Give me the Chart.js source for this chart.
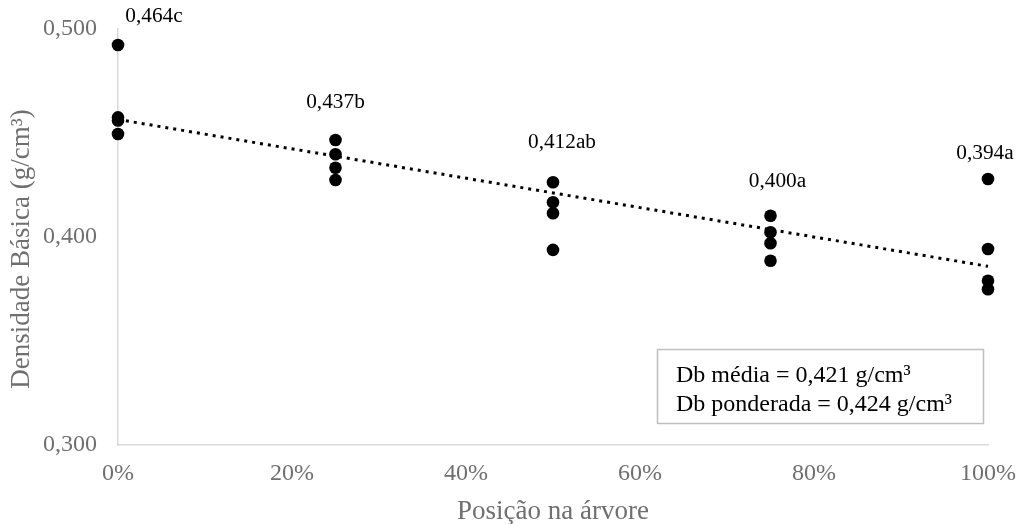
<!DOCTYPE html>
<html>
<head>
<meta charset="utf-8">
<script src="https://cdn.jsdelivr.net/npm/chart.js@4/dist/chart.umd.min.js"></script>
<style>
html,body{margin:0;padding:0;background:#fff;}
#wrap{width:1017px;height:524px;}
</style>
</head>
<body>
<div id="wrap"><canvas id="c" width="1017" height="524"></canvas></div>
<script>
// ---- data ----
const positions = [0, 0.25, 0.5, 0.75, 1];
const density0 = [0.4923, 0.4575, 0.4560, 0.4495];
const density25 = [0.4466, 0.4398, 0.4333, 0.4274];
const density50 = [0.4263, 0.4167, 0.4114, 0.3938];
const density75 = [0.4102, 0.4023, 0.3970, 0.3886];
const density100 = [0.4279, 0.3942, 0.3790, 0.3749];
const meanLabels = ['0,464c', '0,437b', '0,412ab', '0,400a', '0,394a'];
const trendX = [0, 1];
const trendY = [0.4565, 0.3859];
const xTickValues = [0, 0.2, 0.4, 0.6, 0.8, 1];
const yTickValues = [0.3, 0.4, 0.5];
const boxLines = ['Db média = 0,421 g/cm³', 'Db ponderada = 0,424 g/cm³'];
const xTitle = 'Posição na árvore';
const yTitle = 'Densidade Básica (g/cm³)';

// ---- build ----
const groups = [density0, density25, density50, density75, density100];
const scatterPts = [];
groups.forEach((g, i) => g.forEach(v => scatterPts.push({x: positions[i], y: v})));
const trendPts = trendX.map((x, i) => ({x: x, y: trendY[i]}));

const SERIF = '"Liberation Serif", "Times New Roman", serif';
const GRAY = '#6f6f6f';

// annotation placement (label anchor in data units + pixel nudge)
const labelAnchorY = [0.5060, 0.4645, 0.4457, 0.4269, 0.4404];
const labelDx = [36, 0, 9, 7, -3];

const annotations = {
  id: 'annotations',
  afterDraw(chart) {
    const ctx = chart.ctx;
    const xs = chart.scales.x, ys = chart.scales.y;
    ctx.save();
    ctx.fillStyle = '#000';
    ctx.font = '21.3px ' + SERIF;
    ctx.textAlign = 'center';
    ctx.textBaseline = 'middle';
    meanLabels.forEach((t, i) => {
      ctx.fillText(t, xs.getPixelForValue(positions[i]) + labelDx[i], ys.getPixelForValue(labelAnchorY[i]));
    });
    ctx.strokeStyle = '#bfbfbf';
    ctx.lineWidth = 1.5;
    ctx.strokeRect(657.5, 349.5, 326, 74);
    ctx.fillStyle = '#000';
    ctx.font = '24px ' + SERIF;
    ctx.textAlign = 'left';
    ctx.fillText(boxLines[0], 676, 376);
    ctx.fillText(boxLines[1], 676, 405);
    ctx.fillStyle = GRAY;
    ctx.font = '27px ' + SERIF;
    ctx.textAlign = 'center';
    ctx.fillText(xTitle, (chart.chartArea.left + chart.chartArea.right) / 2, 512);
    ctx.translate(22, 249);
    ctx.rotate(-Math.PI / 2);
    ctx.fillText(yTitle, 0, 0);
    ctx.restore();
  }
};

new Chart(document.getElementById('c'), {
  type: 'scatter',
  data: {
    datasets: [
      {
        type: 'line',
        data: trendPts,
        borderColor: '#000',
        borderWidth: 3,
        borderDash: [3, 5],
        pointRadius: 0,
        fill: false,
        clip: false,
        order: 2
      },
      {
        data: scatterPts,
        backgroundColor: '#000',
        borderColor: '#000',
        pointRadius: 6.3,
        pointHoverRadius: 6.3,
        borderWidth: 0,
        clip: false,
        order: 1
      }
    ]
  },
  options: {
    responsive: false,
    animation: false,
    events: [],
    layout: {padding: {top: 29, right: 29, left: 0, bottom: 0}},
    plugins: {legend: {display: false}, tooltip: {enabled: false}},
    scales: {
      x: {
        type: 'linear',
        min: 0, max: 1,
        afterFit(s) { s.height = 79; s.paddingLeft = 0; s.paddingRight = 0; },
        afterBuildTicks(s) { s.ticks = xTickValues.map(v => ({value: v})); },
        grid: {display: false, drawTicks: false},
        border: {display: true, color: '#d9d9d9', width: 1.5},
        ticks: {
          color: GRAY,
          padding: 14,
          font: {family: SERIF, size: 24},
          maxRotation: 0,
          callback: v => Math.round(v * 100) + '%'
        }
      },
      y: {
        type: 'linear',
        min: 0.3, max: 0.5,
        afterFit(s) { s.width = 118; s.paddingTop = 0; s.paddingBottom = 0; },
        afterBuildTicks(s) { s.ticks = yTickValues.map(v => ({value: v})); },
        grid: {display: false, drawTicks: false},
        border: {display: true, color: '#d9d9d9', width: 1.5},
        ticks: {
          color: GRAY,
          padding: 21,
          font: {family: SERIF, size: 24},
          callback: v => v.toFixed(3).replace('.', ',')
        }
      }
    }
  },
  plugins: [annotations]
});
</script>
</body>
</html>
